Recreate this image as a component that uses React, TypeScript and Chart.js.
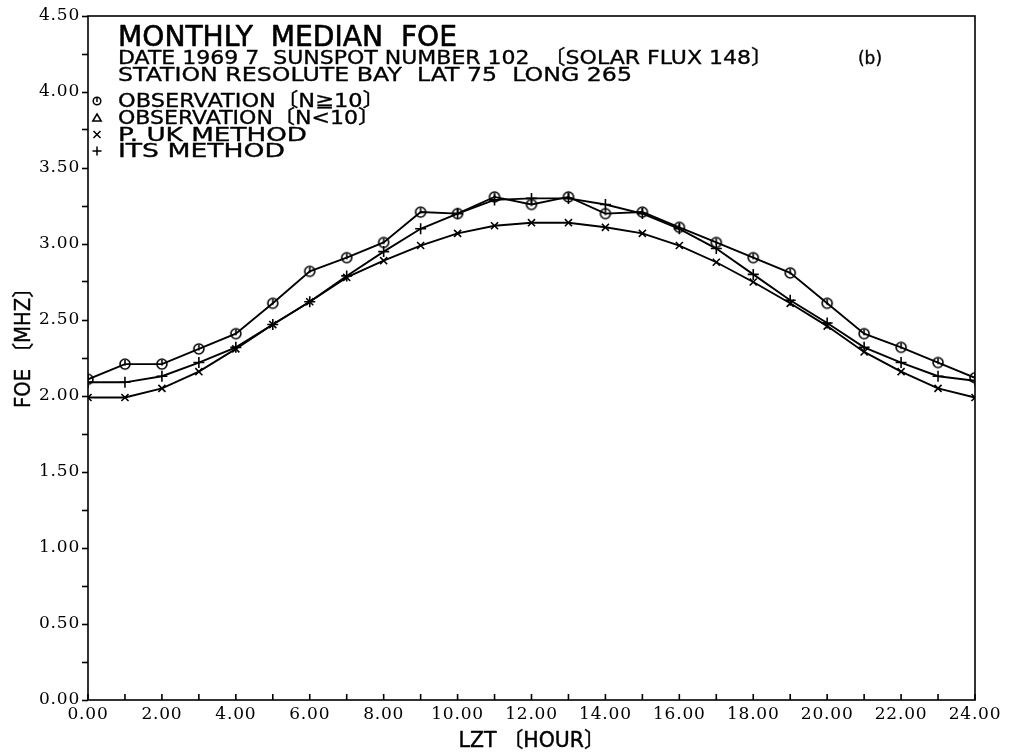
import React, { useEffect, useRef } from 'react';
import { Chart, registerables } from 'chart.js';

Chart.register(...registerables);

// ---- data ----
const hours = [0, 1, 2, 3, 4, 5, 6, 7, 8, 9, 10, 11, 12, 13, 14, 15, 16, 17, 18, 19, 20, 21, 22, 23, 24];
const obsValues = [2.11, 2.21, 2.21, 2.31, 2.41, 2.61, 2.82, 2.91, 3.01, 3.21, 3.2, 3.31, 3.26, 3.31, 3.2, 3.21, 3.11, 3.01, 2.91, 2.81, 2.61, 2.41, 2.32, 2.22, 2.12];
const ukValues = [1.99, 1.99, 2.05, 2.16, 2.31, 2.47, 2.62, 2.78, 2.89, 2.99, 3.07, 3.12, 3.14, 3.14, 3.11, 3.07, 2.99, 2.88, 2.75, 2.61, 2.46, 2.29, 2.16, 2.05, 1.99];
const itsValues = [2.09, 2.09, 2.13, 2.22, 2.32, 2.47, 2.62, 2.79, 2.95, 3.1, 3.2, 3.29, 3.3, 3.3, 3.26, 3.2, 3.1, 2.97, 2.8, 2.63, 2.48, 2.32, 2.22, 2.13, 2.1];
const yMin = 0;
const yMax = 4.5;
const yStep = 0.25;
const xMin = 0;
const xMax = 24;

const titleLines = [
  'MONTHLY  MEDIAN  FOE',
  'DATE 1969 7  SUNSPOT NUMBER 102  〔SOLAR FLUX 148〕',
  'STATION RESOLUTE BAY  LAT 75  LONG 265',
];
const legendLabels = ['OBSERVATION〔N≧10〕', 'OBSERVATION〔N<10〕', 'P. UK METHOD', 'ITS METHOD'];
const panelLabel = '(b)';
const xTitle = 'LZT 〔HOUR〕';
const yTitle = 'FOE 〔MHZ〕';

const SANS = "'DejaVu Sans', 'Noto Sans CJK JP', sans-serif";
const SERIF = "'DejaVu Serif', 'Liberation Serif', serif";

function makeCircleMarker(r: number): HTMLCanvasElement {
  const size = Math.ceil(r * 2 + 4);
  const c = document.createElement('canvas');
  c.width = size;
  c.height = size;
  const g = c.getContext('2d')!;
  const cx = size / 2;
  g.strokeStyle = '#000';
  g.lineWidth = 1.6;
  g.beginPath();
  g.arc(cx, cx, r, 0, Math.PI * 2);
  g.stroke();
  g.beginPath();
  g.moveTo(cx, cx - r + 1);
  g.lineTo(cx, cx + 1.5);
  g.stroke();
  return c;
}

function fitText(
  ctx: CanvasRenderingContext2D,
  text: string,
  x: number,
  baseline: number,
  width: number,
  font: string,
  bold = 0.4
) {
  ctx.save();
  ctx.font = font;
  ctx.letterSpacing = '0px';
  ctx.textAlign = 'left';
  ctx.textBaseline = 'alphabetic';
  const w = ctx.measureText(text).width;
  ctx.translate(x, baseline);
  ctx.scale(width / w, 1);
  ctx.fillStyle = '#000';
  ctx.fillText(text, 0, 0);
  if (bold > 0) {
    ctx.strokeStyle = '#000';
    ctx.lineWidth = bold;
    ctx.lineJoin = 'round';
    ctx.strokeText(text, 0, 0);
  }
  ctx.restore();
}

const decorPlugin = {
  id: 'decor',
  beforeDraw(chart: any) {
    const ctx = chart.ctx as CanvasRenderingContext2D;
    ctx.save();
    ctx.fillStyle = '#fff';
    ctx.fillRect(0, 0, chart.width, chart.height);
    ctx.restore();
    ctx.letterSpacing = '0.8px';
  },
  beforeDatasetsDraw(chart: any) {
    const ctx = chart.ctx as CanvasRenderingContext2D;
    ctx.letterSpacing = '0px';
    const { left, right, top, bottom } = chart.chartArea;
    const xs = chart.scales.x;
    ctx.save();
    ctx.strokeStyle = '#000';
    ctx.lineWidth = 1.6;
    ctx.strokeRect(left, top, right - left, bottom - top);
    // inward x ticks
    ctx.beginPath();
    hours.forEach((h) => {
      const px = xs.getPixelForValue(h);
      ctx.moveTo(px, bottom);
      ctx.lineTo(px, bottom - 6);
    });
    ctx.stroke();
    ctx.restore();
  },
  afterDraw(chart: any) {
    const ctx = chart.ctx as CanvasRenderingContext2D;
    ctx.save();
    ctx.letterSpacing = '0px';
    // header text
    fitText(ctx, titleLines[0], 118, 46, 339, `28px ${SANS}`, 0.6);
    fitText(ctx, titleLines[1], 118, 64, 655, `20px ${SANS}`, 0.35);
    fitText(ctx, titleLines[2], 118, 80.5, 514, `20px ${SANS}`, 0.35);
    fitText(ctx, panelLabel, 858, 64, 24, `17px ${SANS}`, 0.35);
    // legend
    const baselines = [107, 124, 140.5, 157];
    const widths = [267, 262, 189, 167];
    legendLabels.forEach((t, i) => fitText(ctx, t, 118, baselines[i], widths[i], `19px ${SANS}`, 0.35));
    const sx = 97;
    ctx.strokeStyle = '#000';
    ctx.lineWidth = 1.5;
    // circle
    let cy = baselines[0] - 6;
    ctx.beginPath();
    ctx.arc(sx, cy, 3.8, 0, Math.PI * 2);
    ctx.stroke();
    ctx.beginPath();
    ctx.moveTo(sx, cy - 3);
    ctx.lineTo(sx, cy + 1);
    ctx.stroke();
    // triangle
    cy = baselines[1] - 6;
    ctx.beginPath();
    ctx.moveTo(sx, cy - 4);
    ctx.lineTo(sx + 4.2, cy + 3);
    ctx.lineTo(sx - 4.2, cy + 3);
    ctx.closePath();
    ctx.stroke();
    // x
    cy = baselines[2] - 6;
    ctx.beginPath();
    ctx.moveTo(sx - 3.5, cy - 3.5);
    ctx.lineTo(sx + 3.5, cy + 3.5);
    ctx.moveTo(sx + 3.5, cy - 3.5);
    ctx.lineTo(sx - 3.5, cy + 3.5);
    ctx.stroke();
    // +
    cy = baselines[3] - 6;
    ctx.beginPath();
    ctx.moveTo(sx - 4.5, cy);
    ctx.lineTo(sx + 4.5, cy);
    ctx.moveTo(sx, cy - 4.5);
    ctx.lineTo(sx, cy + 4.5);
    ctx.stroke();
    // y axis title
    ctx.translate(30, 343);
    ctx.rotate(-Math.PI / 2);
    fitText(ctx, yTitle, -65, 0, 130, `22px ${SANS}`, 0.45);
    ctx.restore();
    // x axis title
    const xs = chart.scales.x;
    const cx = (xs.left + xs.right) / 2;
    ctx.save();
    fitText(ctx, xTitle, cx - 73, 747, 146, `21px ${SANS}`, 0.45);
    ctx.restore();
  },
};

export default function App() {
  const ref = useRef<HTMLCanvasElement | null>(null);
  useEffect(() => {
    if (!ref.current) return;
    const circleMarker = makeCircleMarker(5);
    const common = {
      borderColor: '#000',
      backgroundColor: '#000',
      borderWidth: 1.9,
      pointBorderColor: '#000',
      pointBackgroundColor: 'rgba(0,0,0,0)',
      pointBorderWidth: 1.6,
      pointRadius: 5,
      tension: 0,
      fill: false,
    };
    const chart = new Chart(ref.current, {
      type: 'line',
      data: {
        datasets: [
          { ...common, label: 'OBSERVATION', data: hours.map((h, i) => ({ x: h, y: obsValues[i] })), pointStyle: circleMarker as any },
          { ...common, label: 'P. UK METHOD', data: hours.map((h, i) => ({ x: h, y: ukValues[i] })), pointStyle: 'crossRot', pointRadius: 5 },
          { ...common, label: 'ITS METHOD', data: hours.map((h, i) => ({ x: h, y: itsValues[i] })), pointStyle: 'cross', pointRadius: 5.5 },
        ],
      },
      options: {
        animation: false,
        responsive: false,
        maintainAspectRatio: false,
        layout: { padding: { top: 16, right: 35, left: 0, bottom: 0 } },
        plugins: { legend: { display: false }, tooltip: { enabled: false }, title: { display: false } },
        scales: {
          x: {
            type: 'linear',
            min: xMin,
            max: xMax,
            afterBuildTicks: (s: any) => {
              s.ticks = hours.map((v) => ({ value: v }));
            },
            afterFit: (s: any) => {
              s.height = 54;
            },
            grid: { display: false, drawTicks: false },
            border: { display: false },
            ticks: {
              autoSkip: false,
              maxRotation: 0,
              padding: 4,
              color: '#000',
              font: { family: SERIF, size: 17 },
              callback: (v: any) => (Number(v) % 2 === 0 ? Number(v).toFixed(2) : ''),
            },
            title: { display: false },
          },
          y: {
            type: 'linear',
            min: yMin,
            max: yMax,
            afterFit: (s: any) => {
              s.width = 88;
            },
            grid: { drawOnChartArea: false, drawTicks: true, tickLength: 6, tickWidth: 1.6, tickColor: '#000' },
            border: { display: false },
            ticks: {
              stepSize: yStep,
              autoSkip: false,
              padding: 2,
              color: '#000',
              font: { family: SERIF, size: 17 },
              callback: (v: any) => (Math.round(Number(v) * 100) % 50 === 0 ? Number(v).toFixed(2) : ''),
            },
          },
        },
      },
      plugins: [decorPlugin],
    } as any);
    return () => chart.destroy();
  }, []);
  return (
    <div style={{ position: 'fixed', left: 0, top: 0, width: 1010, height: 754, background: '#fff' }}>
      <canvas ref={ref} width={1010} height={754} style={{ width: 1010, height: 754, display: 'block' }} />
    </div>
  );
}
